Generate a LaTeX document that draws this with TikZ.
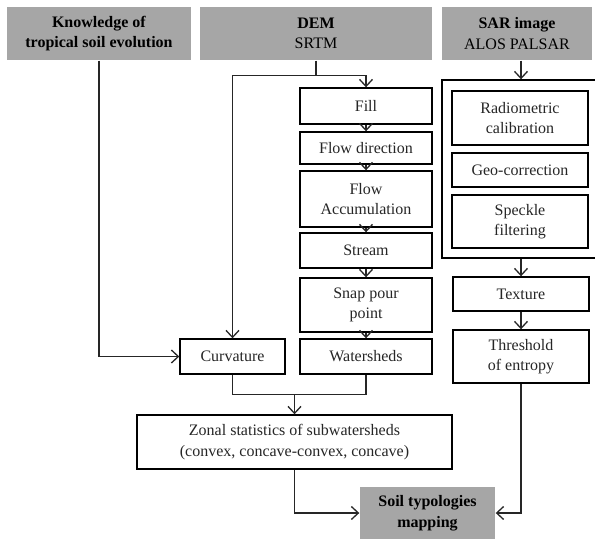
\documentclass[tikz,border=0pt]{standalone}
\usepackage{fontspec}
\setmainfont{Liberation Serif}
\newfontfamily\lserif{Liberation Serif}
\usetikzlibrary{arrows.meta,calc}
\definecolor{boxgray}{HTML}{A6A6A6}
\tikzset{
  base/.style={draw=black, line width=1.4pt, align=center, inner sep=0pt,
    font=\lserif\fontsize{16}{20.5}\selectfont, text=black!85},
  wbox/.style={base, fill=white},
  gbox/.style={base, draw=none, fill=boxgray, text=black},
  conn/.style={line width=1.3pt, draw=black!85},
  arr/.style={conn, -{Straight Barb[length=7pt,width=13pt]}},
}
\begin{document}
\begin{tikzpicture}[x=1pt,y=-1pt]
\useasboundingbox (0,0) rectangle (595,539);
% frame drawn first
\node[base, minimum width=156pt, minimum height=178pt] (frame) at (520,169) {};
% top gray boxes
\node[gbox, minimum width=184pt, minimum height=53pt] (know) at (99,33.5) {\textbf{Knowledge of}\\\textbf{tropical soil evolution}};
\node[gbox, minimum width=232pt, minimum height=53pt] (dem) at (316,33.5) {\textbf{DEM}\\SRTM};
\node[gbox, minimum width=150pt, minimum height=53pt] (sar) at (517,33.5) {\textbf{SAR image}\\ALOS PALSAR};
% DEM column
\node[wbox, minimum width=132pt, minimum height=36pt] (fill) at (366,106) {Fill};
\node[wbox, minimum width=132pt, minimum height=32pt] (flowdir) at (366,148) {Flow direction};
\node[wbox, minimum width=132pt, minimum height=56pt] (flowacc) at (366,199) {Flow\\Accumulation};
\node[wbox, minimum width=132pt, minimum height=35pt] (stream) at (366,250.5) {Stream};
\node[wbox, minimum width=132pt, minimum height=54pt] (snap) at (366,305) {Snap pour\\point};
\node[wbox, minimum width=132pt, minimum height=35pt] (water) at (366,356.5) {Watersheds};
\node[wbox, minimum width=105pt, minimum height=35pt] (curv) at (232.5,356.5) {Curvature};
% SAR column
\node[wbox, minimum width=136pt, minimum height=54pt] (radio) at (520,118) {Radiometric\\calibration};
\node[wbox, minimum width=136pt, minimum height=34pt] (geo) at (520,170) {Geo-correction};
\node[wbox, minimum width=136pt, minimum height=53pt] (speckle) at (520,221.5) {Speckle\\filtering};
\node[wbox, minimum width=136pt, minimum height=34pt] (texture) at (521,294) {Texture};
\node[wbox, minimum width=136pt, minimum height=53pt] (thresh) at (521,356.5) {Threshold\\of entropy};
% bottom
\node[wbox, minimum width=315pt, minimum height=54pt] (zonal) at (294.5,442) {Zonal statistics of subwatersheds\\(convex, concave-convex, concave)};
\node[gbox, minimum width=135pt, minimum height=52pt] (soil) at (427.5,513) {\textbf{Soil typologies}\\\textbf{mapping}};
% connectors
\coordinate (j1) at ($(dem.south)+(0,15)$);
\draw[conn] (dem.south) -- (j1);
\draw[arr] (j1) -| (fill.north);
\draw[arr] (j1) -| (curv.north);
\draw[arr] (know.south) |- (curv.west);
\draw[arr] (fill) -- (flowdir);
\draw[arr] (flowdir) -- (flowacc);
\draw[arr] (flowacc) -- (stream);
\draw[arr] (stream) -- (snap);
\draw[arr] (snap) -- (water);
\coordinate (j2) at ($(zonal.north)+(0,-20)$);
\draw[conn] (curv.south) |- (j2) -| (water.south);
\draw[arr] (j2) -- (zonal.north);
\draw[arr] (zonal.south) |- (soil.west);
\draw[arr] (texture.north |- sar.south) -- (texture.north |- frame.north);
\draw[arr] (texture.north |- frame.south) -- (texture.north);
\draw[arr] (texture) -- (thresh);
\draw[arr] (thresh.south) |- (soil.east);
\end{tikzpicture}
\end{document}
